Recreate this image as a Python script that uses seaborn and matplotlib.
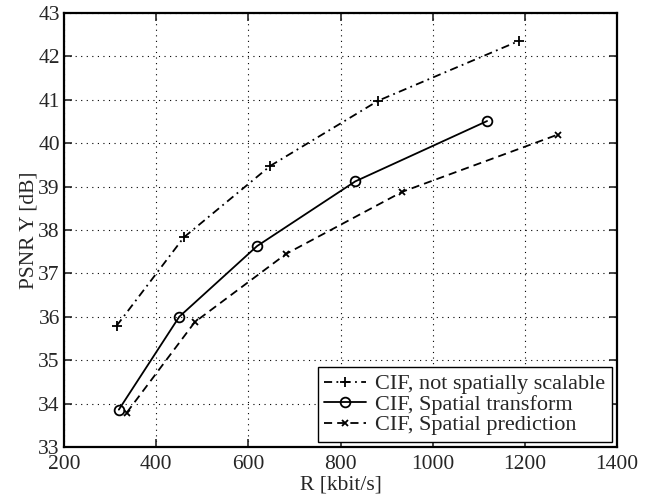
import matplotlib

matplotlib.use("Agg")
import matplotlib.pyplot as plt
import pandas as pd
import seaborn as sns

sns.set_style("ticks")
plt.rcParams["font.family"] = ["Liberation Serif", "DejaVu Serif"]

# Rate-distortion points
labels = [
    "CIF, not spatially scalable",
    "CIF, Spatial transform",
    "CIF, Spatial prediction",
]
rate_not_scalable = [314, 460, 648, 882, 1188]
psnr_not_scalable = [35.79, 37.83, 39.48, 40.98, 42.36]
rate_transform = [319, 450, 619, 832, 1118]
psnr_transform = [33.86, 36.00, 37.63, 39.12, 40.51]
rate_prediction = [336, 484, 682, 934, 1272]
psnr_prediction = [33.79, 35.88, 37.45, 38.88, 40.20]

x_ticks = [200, 400, 600, 800, 1000, 1200, 1400]
y_ticks = [33, 34, 35, 36, 37, 38, 39, 40, 41, 42, 43]

styles = [
    dict(marker="+", ms=7, ls=(0, (4.5, 2.4, 1, 2.4))),
    dict(marker="o", ms=7, ls="-"),
    dict(marker="x", ms=4.5, ls=(0, (4.5, 2.8))),
]

fig = plt.figure(figsize=(6.51, 4.96), dpi=100)
ax = fig.add_axes([0.0983, 0.0988, 0.8495, 0.8750])

for name, r, p, st in zip(
    labels,
    [rate_not_scalable, rate_transform, rate_prediction],
    [psnr_not_scalable, psnr_transform, psnr_prediction],
    styles,
):
    df = pd.DataFrame({"rate": r, "psnr": p})
    sns.lineplot(
        data=df,
        x="rate",
        y="psnr",
        color="black",
        marker=st["marker"],
        markersize=st["ms"],
        markerfacecolor="none",
        markeredgecolor="black",
        markeredgewidth=1.3,
        linewidth=1.3,
        linestyle=st["ls"],
        sort=False,
        label=name,
        ax=ax,
    )

ax.set_xlim(200, 1400)
ax.set_ylim(33, 43)
ax.set_xticks(x_ticks)
ax.set_yticks(y_ticks)
ax.tick_params(
    direction="in", top=True, right=True, length=6, width=1.2,
    labelsize=15.5,
)
ax.tick_params(axis="x", pad=6)
ax.tick_params(axis="y", pad=3)
ax.grid(True, color="black", linestyle=(0, (1, 4)), linewidth=0.8)
for side in ax.spines.values():
    side.set_linewidth(1.6)
    side.set_color("black")

ax.set_xlabel("R [kbit/s]", fontsize=15.5, labelpad=1)
ax.set_ylabel("PSNR Y [dB]", fontsize=15.5, labelpad=0)

leg = ax.legend(
    loc="lower right",
    fontsize=16,
    frameon=True,
    fancybox=False,
    edgecolor="black",
    framealpha=1,
    borderaxespad=0.22,
    handlelength=1.9,
    handletextpad=0.4,
    labelspacing=0.0,
    borderpad=0.3,
)
leg.get_frame().set_linewidth(1.0)

fig.savefig("out.png", dpi=100)
